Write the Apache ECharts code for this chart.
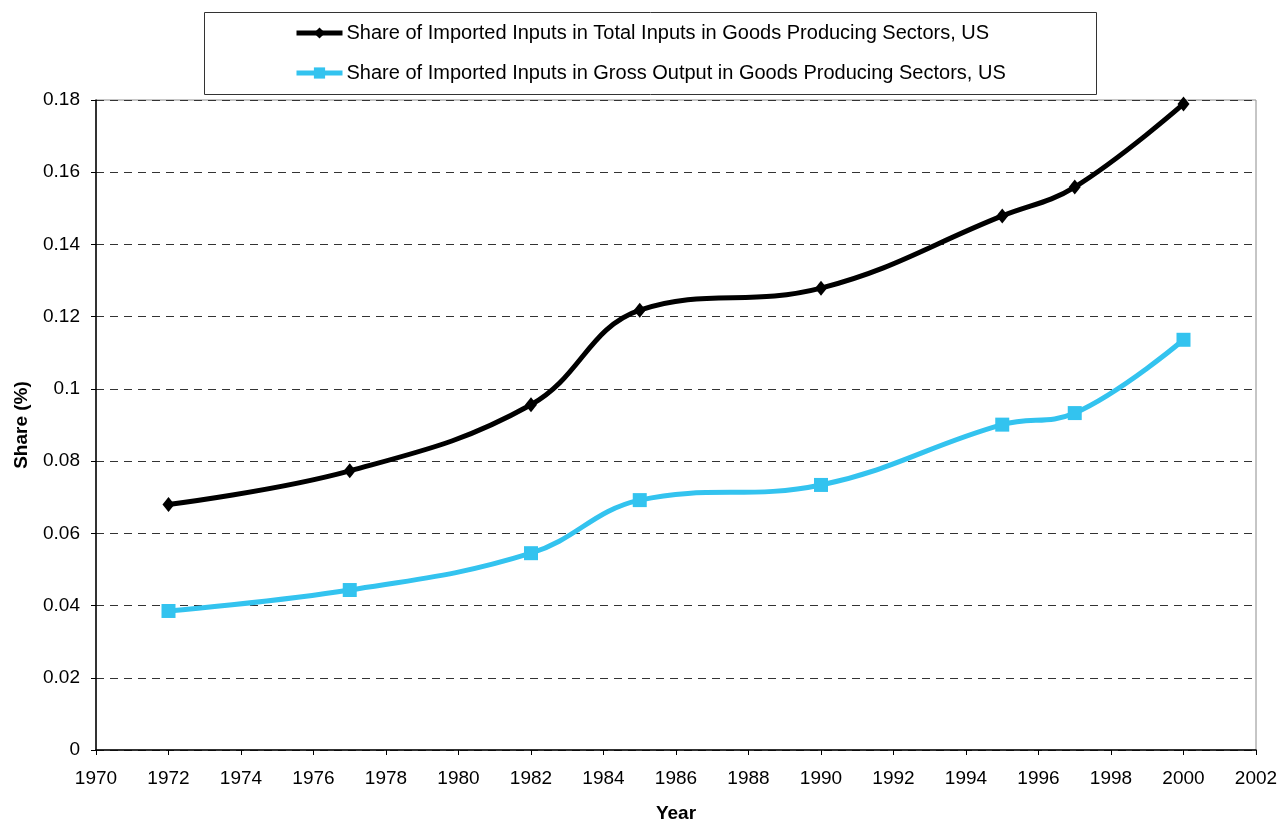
<!DOCTYPE html>
<html><head><meta charset="utf-8">
<script src="https://cdn.jsdelivr.net/npm/echarts@6/dist/echarts.min.js"></script>
<style>html,body{margin:0;padding:0;background:#fff}#c{width:1281px;height:821px}</style>
</head><body><div id="c"></div>
<script>
const years = [1972, 1977, 1982, 1985, 1990, 1995, 1997, 2000];
const totalInputsShare = [0.068, 0.0773, 0.0956, 0.1218, 0.1279, 0.1479, 0.1559, 0.1789];
const grossOutputShare = [0.0385, 0.0443, 0.0545, 0.0692, 0.0734, 0.0901, 0.0933, 0.1136];
const seriesNames = ['Share of Imported Inputs in Total Inputs in Goods Producing Sectors, US',
                     'Share of Imported Inputs in Gross Output in Goods Producing Sectors, US'];
const font = 'Liberation Sans, Arial, sans-serif';
const chart = echarts.init(document.getElementById('c'), null, {renderer:'canvas'});
chart.setOption({
  animation:false,
  backgroundColor:'#fff',
  grid:{left:96,right:25,top:100,bottom:71,outerBoundsMode:'none',containLabel:false,show:true,borderColor:'#8c8c8c',borderWidth:1,backgroundColor:'transparent'},
  graphic:[{type:'rect',shape:{x:204.5,y:12.5,width:892,height:82},style:{fill:'none',stroke:'#333',lineWidth:1},z:1}],
  legend:{orient:'vertical',left:289,top:18,itemWidth:46,itemHeight:14,itemGap:20,
    lineStyle:{width:5},
    textStyle:{fontFamily:font,fontSize:20,color:'#000',padding:[0,0,0,-1]},
    data:seriesNames},
  xAxis:{type:'value',min:1970,max:2002,interval:2,name:'Year',nameLocation:'middle',nameGap:54,
    nameTextStyle:{fontFamily:font,fontSize:19,fontWeight:'bold',color:'#000'},
    axisLine:{lineStyle:{color:'#000',width:1.5}},axisTick:{length:5,lineStyle:{color:'#000'}},
    axisLabel:{fontFamily:font,fontSize:19,color:'#000',margin:19,formatter:v=>String(v)},splitLine:{show:false}},
  yAxis:{type:'value',min:0,max:0.18,interval:0.02,name:'Share (%)',nameLocation:'middle',nameGap:65,
    nameTextStyle:{fontFamily:font,fontSize:19,fontWeight:'bold',color:'#000'},
    axisLine:{show:true,lineStyle:{color:'#000',width:1.5}},axisTick:{show:true,length:5,lineStyle:{color:'#000'}},
    axisLabel:{fontFamily:font,fontSize:19,color:'#000',margin:16,formatter:v=>String(+v.toFixed(2))},
    splitLine:{show:true,lineStyle:{color:'#333',type:[8,6],width:1}}},
  series:[
    {name:seriesNames[0],type:'line',smooth:0.4,data:years.map((y,i)=>[y,totalInputsShare[i]]),
     symbol:'diamond',symbolSize:[12,15],lineStyle:{color:'#000',width:5},itemStyle:{color:'#000'},color:'#000'},
    {name:seriesNames[1],type:'line',smooth:0.4,data:years.map((y,i)=>[y,grossOutputShare[i]]),
     symbol:'rect',symbolSize:14,lineStyle:{color:'#33c3ef',width:5},itemStyle:{color:'#33c3ef'},color:'#33c3ef'}
  ]
});
</script></body></html>
